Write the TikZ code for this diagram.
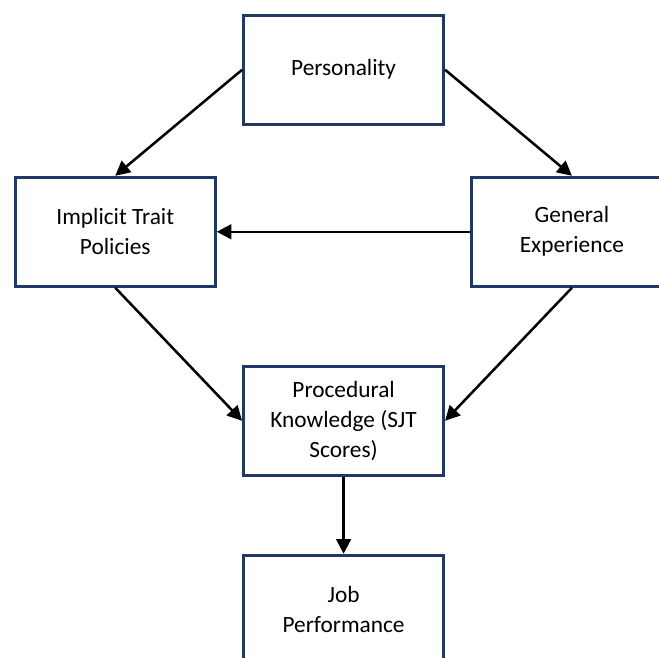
\documentclass[tikz,border=0pt]{standalone}
\usepackage{fontspec}
\setmainfont{Carlito}
\usetikzlibrary{matrix,arrows.meta}
\definecolor{boxnavy}{HTML}{1F3864}

\begin{document}
\begin{tikzpicture}[x=0.75pt,y=-0.75pt]
			\useasboundingbox (0,0) rectangle (659,657);
			\matrix (m) [anchor=north west, inner sep=0pt,
				row sep=57.75pt, column sep=19pt,
				nodes={draw=boxnavy, line width=2.25pt, align=center, inner sep=3pt,
					minimum width=150pt, minimum height=81.75pt,
					font=\fontsize{17.5}{22.5}\selectfont}] at (13.5,13.5)
			{
				                                  & \node (pers) {Personality};                           &                                       \\[-20.25pt]
				\node (itp) {Implicit Trait\\Policies}; &                                                 & \node (genexp) {General\\Experience}; \\
				                                  & \node (pk) {Procedural\\Knowledge (SJT\\Scores)};       &                                       \\
				                                  & \node (jp) {Job\\Performance};                        &                                       \\
			};
			\path[-{Triangle[length=11pt,width=11pt]}, line width=1.9pt]
			(pers.west) edge (itp.north)
			(pers.east) edge (genexp.north)
			(genexp.west) edge (itp.east)
			(itp.south) edge (pk.west)
			(genexp.south) edge (pk.east)
			(pk.south) edge (jp.north);
		\end{tikzpicture}
\end{document}
